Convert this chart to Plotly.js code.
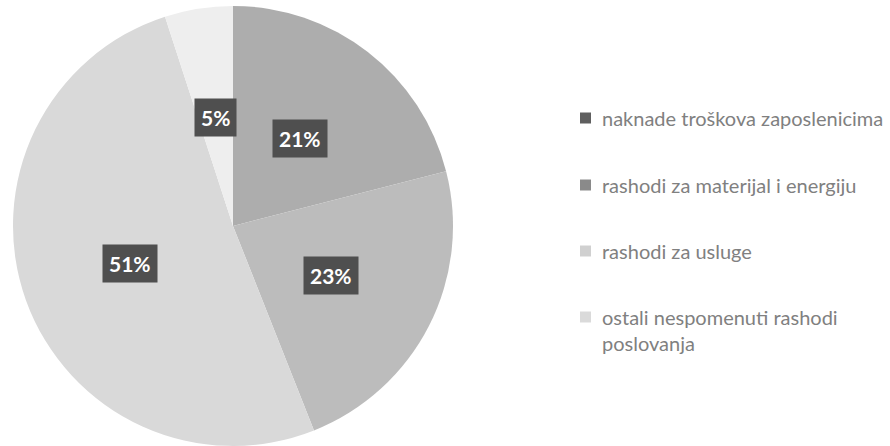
<!DOCTYPE html>
<html>
<head>
<meta charset="utf-8">
<script src="https://cdn.plot.ly/plotly-3.0.1.min.js"></script>
<style>html,body{margin:0;padding:0;background:#fff;}#chart{width:890px;height:446px;}</style>
</head>
<body>
<div id="chart"></div>
<script>
// Data
var categories = [
  "naknade troškova zaposlenicima",
  "rashodi za materijal i energiju",
  "rashodi za usluge",
  "ostali nespomenuti rashodi poslovanja"
];
var shares = [21, 23, 51, 5];

// Styles
var sliceColors = ["#adadad", "#bcbcbc", "#d9d9d9", "#eeeeee"];
var markerColors = ["#5f5f5f", "#8a8a8a", "#d0d0d0", "#dadada"];

var W = 890, H = 446;
var domX = [13 / W, 453 / W];
var domY = [0, 0.987];

function wrap(s, maxLen) {
  var words = s.split(" "), lines = [], cur = "";
  words.forEach(function (w) {
    if ((cur + " " + w).trim().length > maxLen && cur) { lines.push(cur); cur = w; }
    else cur = (cur ? cur + " " : "") + w;
  });
  if (cur) lines.push(cur);
  return lines.join("<br>");
}

var trace = {
  type: "pie",
  labels: categories,
  values: shares,
  sort: false,
  direction: "clockwise",
  rotation: 0,
  textinfo: "none",
  hoverinfo: "none",
  marker: { colors: sliceColors, line: { width: 0 } },
  domain: { x: domX, y: domY },
  showlegend: false
};

// geometry for labels
var rPx = Math.min((domX[1] - domX[0]) * W, (domY[1] - domY[0]) * H) / 2;
var cx = (domX[0] + domX[1]) / 2, cy = (domY[0] + domY[1]) / 2;
var total = shares.reduce(function (a, b) { return a + b; }, 0);
var annotations = [], shapes = [];
var cum = 0;
shares.forEach(function (v) {
  var mid = (cum + v / 2) / total * 2 * Math.PI;
  cum += v;
  var rr = rPx * 0.5;
  annotations.push({
    xref: "paper", yref: "paper",
    x: cx + rr * Math.sin(mid) / W,
    y: cy + rr * Math.cos(mid) / H,
    text: "<b>" + Math.round(v / total * 100) + "%</b>",
    showarrow: false,
    font: { family: "Lato, 'Open Sans', sans-serif", size: 21, color: "#ffffff" },
    bgcolor: "#4f4f4f",
    borderpad: 6,
    xanchor: "center", yanchor: "middle"
  });
});

// legend (manual, for wide spacing)
var legendY = [118, 185, 251, 330];
categories.forEach(function (c, i) {
  var yPx = legendY[i];
  var txt = wrap(c, 32);
  var markY = i === 3 ? 317 : yPx;
  shapes.push({
    type: "rect", xref: "paper", yref: "paper",
    x0: 580 / W, x1: 591 / W,
    y0: 1 - (markY + 5.5) / H, y1: 1 - (markY - 5.5) / H,
    fillcolor: markerColors[i], line: { width: 0 }
  });
  annotations.push({
    xref: "paper", yref: "paper",
    x: 600 / W, y: 1 - yPx / H,
    text: txt,
    showarrow: false, align: "left",
    xanchor: "left", yanchor: "middle",
    font: { family: "Lato, sans-serif", size: 20, color: "#808080" }
  });
});

var layout = {
  width: W, height: H,
  margin: { l: 0, r: 0, t: 0, b: 0 },
  paper_bgcolor: "#ffffff",
  showlegend: false,
  annotations: annotations,
  shapes: shapes
};

Plotly.newPlot("chart", [trace], layout, { displayModeBar: false, staticPlot: true });
</script>
</body>
</html>
